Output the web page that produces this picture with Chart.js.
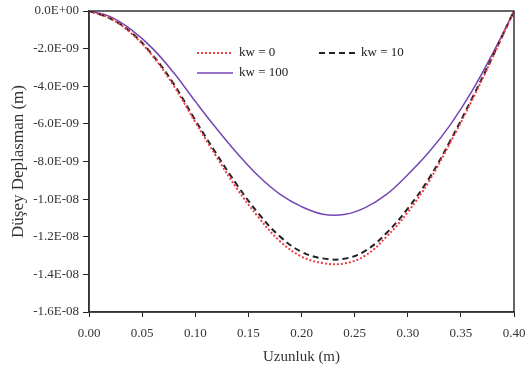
<!DOCTYPE html>
<html>
<head>
<meta charset="utf-8">
<script src="https://cdn.jsdelivr.net/npm/chart.js@4.4.1/dist/chart.umd.min.js"></script>
<style>
  html, body { margin: 0; padding: 0; background: #fff; }
  #wrap { width: 526px; height: 370px; }
</style>
</head>
<body>
<div id="wrap"><canvas id="chart" width="526" height="370"></canvas></div>
<script>
// 横軸 (m)
const xs = [0, 0.02, 0.04, 0.06, 0.08, 0.10, 0.12, 0.14, 0.16, 0.18, 0.20,
            0.22, 0.24, 0.26, 0.28, 0.30, 0.32, 0.34, 0.36, 0.38, 0.40];

// 縦変位 (x 1E-08 m)
const kw0   = [0, -0.04, -0.12, -0.24, -0.40, -0.59, -0.775, -0.95, -1.10, -1.225, -1.305,
               -1.34, -1.342, -1.30, -1.20, -1.07, -0.905, -0.70, -0.48, -0.245, 0];
const kw10  = [0, -0.04, -0.115, -0.235, -0.39, -0.58, -0.76, -0.93, -1.08, -1.20, -1.28,
               -1.315, -1.317, -1.275, -1.18, -1.05, -0.89, -0.69, -0.47, -0.24, 0];
const kw100 = [0, -0.03, -0.10, -0.20, -0.33, -0.48, -0.625, -0.76, -0.88, -0.975, -1.04,
               -1.08, -1.082, -1.045, -0.975, -0.87, -0.75, -0.605, -0.43, -0.225, 0];

const seriesLabels = ['kw = 0', 'kw = 10', 'kw = 100'];
const xTitle = 'Uzunluk (m)';
const yTitle = 'Düşey Deplasman (m)';

const FONT = '"Liberation Serif", "Times New Roman", serif';

function toPoints(vals) {
  return xs.map((x, i) => ({ x: x, y: vals[i] * 1e-8 }));
}

// 0.0E+00 形式
function sci(v) {
  if (Math.abs(v) < 1e-20) v = 0;
  const s = v.toExponential(1).toUpperCase();
  const m = s.match(/^(-?[\d.]+)E([+-])(\d+)$/);
  if (!m) return s;
  return m[1] + 'E' + m[2] + m[3].padStart(2, '0');
}

// 枠線と凡例
const framePlugin = {
  id: 'frame',
  afterDraw(chart) {
    const { ctx, chartArea: a } = chart;
    ctx.save();
    ctx.strokeStyle = '#333';
    ctx.lineWidth = 1.5;
    ctx.strokeRect(a.left, a.top, a.right - a.left, a.bottom - a.top);

    // 凡例
    const ds = chart.data.datasets;
    const items = [
      { ds: ds[0], x: a.left + 108, y: a.top + 42 },
      { ds: ds[1], x: a.left + 230, y: a.top + 42 },
      { ds: ds[2], x: a.left + 108, y: a.top + 62 }
    ];
    ctx.font = '13px ' + FONT;
    ctx.textBaseline = 'middle';
    ctx.fillStyle = '#222';
    items.forEach(it => {
      ctx.beginPath();
      ctx.strokeStyle = it.ds.borderColor;
      ctx.lineWidth = it.ds.borderWidth;
      ctx.setLineDash(it.ds.borderDash || []);
      ctx.moveTo(it.x, it.y);
      ctx.lineTo(it.x + 36, it.y);
      ctx.stroke();
      ctx.setLineDash([]);
      ctx.fillText(it.ds.label, it.x + 42, it.y);
    });
    ctx.restore();
  }
};

new Chart(document.getElementById('chart'), {
  type: 'line',
  data: {
    datasets: [
      {
        label: seriesLabels[0],
        data: toPoints(kw0),
        borderColor: '#f03c45',
        borderWidth: 2,
        borderDash: [2, 2],
        tension: 0.4,
        pointRadius: 0,
        fill: false
      },
      {
        label: seriesLabels[1],
        data: toPoints(kw10),
        borderColor: '#222',
        borderWidth: 2,
        borderDash: [6, 4],
        tension: 0.4,
        pointRadius: 0,
        fill: false
      },
      {
        label: seriesLabels[2],
        data: toPoints(kw100),
        borderColor: '#7446b4',
        borderWidth: 1.5,
        tension: 0.4,
        pointRadius: 0,
        fill: false
      }
    ]
  },
  options: {
    responsive: false,
    animation: false,
    layout: { padding: { left: 0, right: 12, top: 11, bottom: 0 } },
    plugins: {
      legend: { display: false },
      tooltip: { enabled: false }
    },
    scales: {
      x: {
        type: 'linear',
        min: 0,
        max: 0.4,
        ticks: {
          stepSize: 0.05,
          color: '#333',
          font: { family: FONT, size: 13 },
          padding: 9,
          maxRotation: 0,
          callback: v => v.toFixed(2)
        },
        grid: { drawOnChartArea: false, drawTicks: true, tickLength: 5, color: '#222' },
        border: { display: true, color: '#333', width: 1.5 },
        title: {
          display: true,
          text: xTitle,
          color: '#333',
          font: { family: FONT, size: 15 },
          padding: { top: 0, bottom: 4 }
        },
        afterFit: s => { s.height = 58; s.paddingLeft = 0; s.paddingRight = 0; }
      },
      y: {
        type: 'linear',
        min: -1.6e-8,
        max: 0,
        ticks: {
          stepSize: 2e-9,
          color: '#333',
          font: { family: FONT, size: 13 },
          padding: 4,
          callback: v => sci(v)
        },
        grid: { drawOnChartArea: false, drawTicks: true, tickLength: 6, color: '#222' },
        border: { display: true, color: '#333', width: 1.5 },
        title: {
          display: true,
          text: yTitle,
          color: '#333',
          font: { family: FONT, size: 17 },
          padding: { top: 8, bottom: 0 }
        },
        afterFit: s => { s.width = 89; s.paddingTop = 0; s.paddingBottom = 0; }
      }
    }
  },
  plugins: [framePlugin]
});
</script>
</body>
</html>
